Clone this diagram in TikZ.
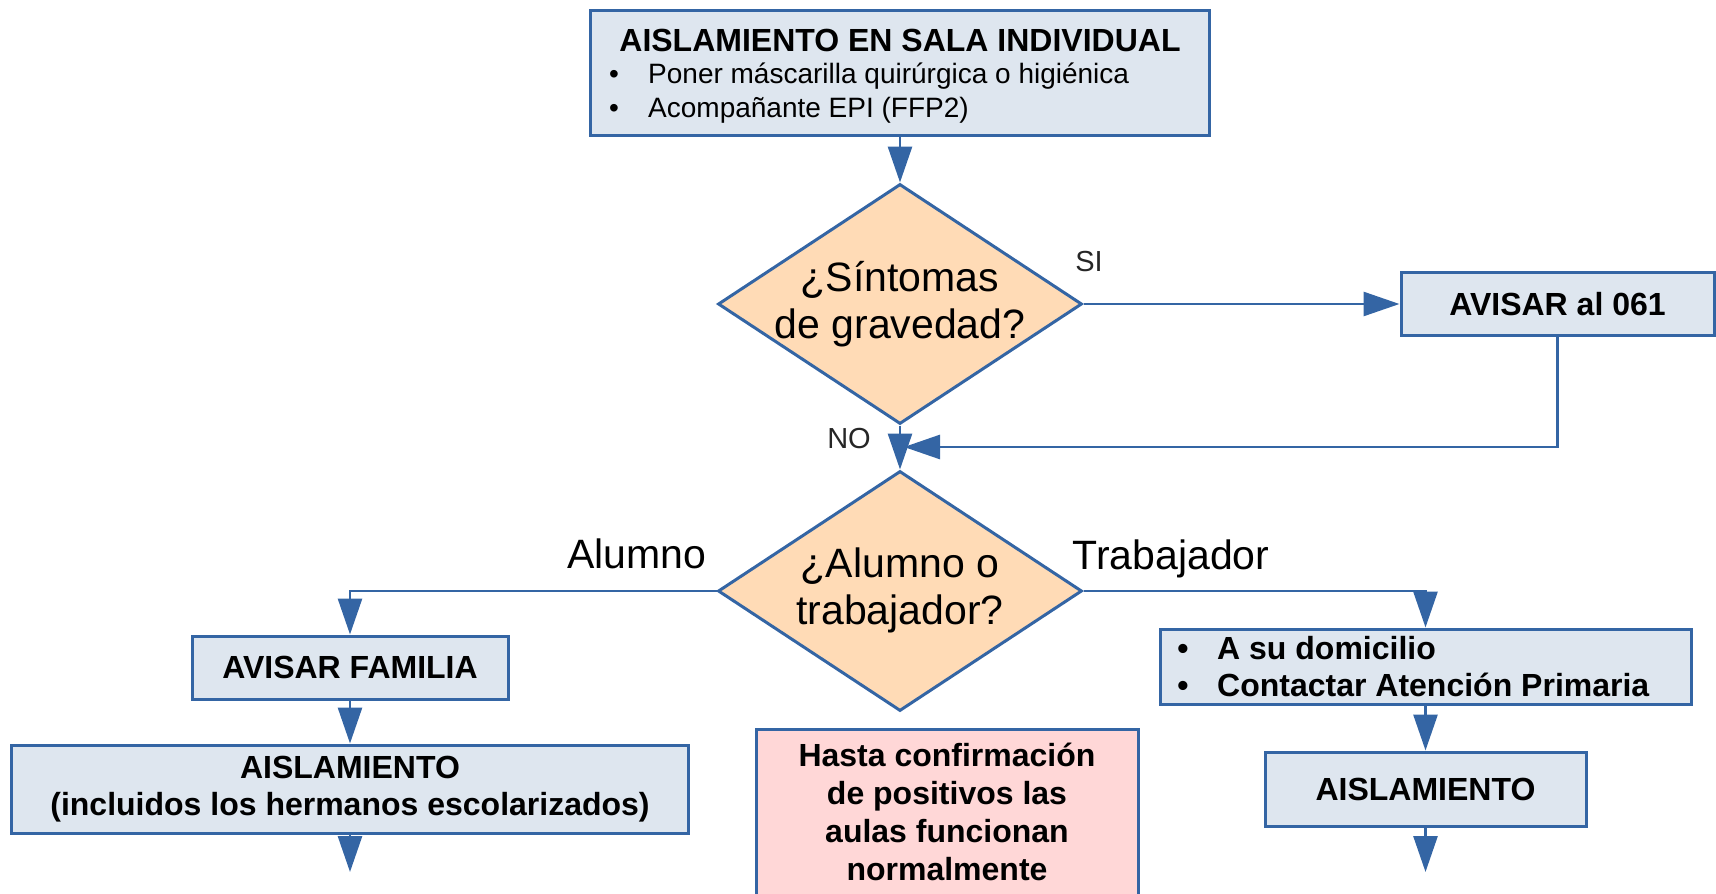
\documentclass[tikz,border=0pt]{standalone}
\usepackage{fontspec}
\setmainfont{Liberation Sans}
\usetikzlibrary{shapes.geometric,arrows.meta}
\definecolor{lineblue}{HTML}{3465A4}
\definecolor{boxfill}{HTML}{DEE6EF}
\definecolor{diafill}{HTML}{FFDBB6}
\definecolor{pinkfill}{HTML}{FFD7D7}
\begin{document}
\begin{tikzpicture}[x=1pt,y=-1pt,
  box/.style={draw=lineblue, fill=boxfill, line width=3pt, rectangle, inner sep=0pt},
  pinkbox/.style={draw=lineblue, fill=pinkfill, line width=3pt, rectangle, inner sep=0pt},
  dia/.style={draw=lineblue, fill=diafill, diamond, line width=3pt, minimum width=364pt, minimum height=240pt, inner sep=0pt},
  conn/.style={draw=lineblue, line width=2.8pt, -{Triangle[width=24pt,length=36pt]}},
  bigtxt/.style={font=\fontsize{41}{47}\selectfont, align=center, inner sep=0pt},
  lbl/.style={font=\fontsize{29}{34}\selectfont, inner sep=0pt, text=black!85},
  boldtxt/.style={font=\bfseries\fontsize{32}{37}\selectfont, align=center},
  regtxt/.style={font=\fontsize{28}{34}\selectfont, inner sep=0pt},
  bbold/.style={font=\bfseries\fontsize{32}{37}\selectfont, inner sep=0pt}
]
\useasboundingbox (0,0) rectangle (1716,894);
\clip (0,0) rectangle (1716,894);

% top box
\node[box, minimum width=619pt, minimum height=125pt] (top) at (900,72.5) {};
\node[bbold, anchor=base] (toptitle) at (900,51) {AISLAMIENTO EN SALA INDIVIDUAL};
\node[regtxt, anchor=base] (b1) at (614,83) {•};
\node[regtxt, anchor=base west] (t1) at (648,83) {Poner máscarilla quirúrgica o higiénica};
\node[regtxt, anchor=base] (b2) at (614,117) {•};
\node[regtxt, anchor=base west] (t2) at (648,117) {Acompañante EPI (FFP2)};

% first decision
\node[dia] (d1) at (900,304) {};
\node[bigtxt] (d1t) at (900,304) {¿Síntomas\\de gravedad?};
\node[lbl] (si) at (1089,262) {SI};

\node[box, boldtxt, minimum width=313pt, minimum height=63pt] (a061) at (1557.5,304) {AVISAR al 061};

\node[lbl] (no) at (849,439) {NO};

% second decision
\node[dia] (d2) at (900,591) {};
\node[bigtxt] (d2t) at (900,590) {¿Alumno o\\trabajador?};
\node[font=\fontsize{41}{47}\selectfont, inner sep=0pt] (alu) at (637,554) {Alumno};
\node[font=\fontsize{41}{47}\selectfont, inner sep=0pt] (tra) at (1171,559) {Trabajador};

% left branch
\node[box, boldtxt, minimum width=316pt, minimum height=63pt] (fam) at (350,667.5) {AVISAR FAMILIA};
\node[box, boldtxt, minimum width=677pt, minimum height=88pt] (ais1) at (350,789) {AISLAMIENTO\\(incluidos los hermanos escolarizados)};
\coordinate (e1) at (350,872);

% pink note
\node[pinkbox, minimum width=382pt, minimum height=190pt, anchor=north] (pink) at (947,728) {};
\node[font=\bfseries\fontsize{32}{38}\selectfont, align=center, inner sep=0pt] (pinkt) at (947,812) {Hasta confirmación\\de positivos las\\aulas funcionan\\normalmente};

% right branch
\node[box, minimum width=531pt, minimum height=75pt] (rb) at (1425.5,666.5) {};
\node[bbold, anchor=base] (rb1) at (1183,659) {•};
\node[bbold, anchor=base west] (rt1) at (1217,659) {A su domicilio};
\node[bbold, anchor=base] (rb2) at (1183,696) {•};
\node[bbold, anchor=base west] (rt2) at (1217,696) {Contactar Atención Primaria};
\node[box, boldtxt, minimum width=321pt, minimum height=74pt] (ais2) at (1425.5,789) {AISLAMIENTO};
\coordinate (e2) at (1425.5,872);

\coordinate (m) at (904,447);

% connectors
\draw[conn] (top.south) -- (d1.north);
\draw[conn] (d1.east) -- (a061.west);
\draw[conn] (a061.south) |- (m);
\draw[conn] (d1.south) -- (d2.north);
\draw[conn] (d2.west) -| (fam.north);
\draw[conn] (fam.south) -- (ais1.north);
\draw[conn] (ais1.south) -- (e1);
\draw[conn] (d2.east) -| (rb.north);
\draw[conn] (rb.south) -- (ais2.north);
\draw[conn] (ais2.south) -- (e2);
\end{tikzpicture}
\end{document}
